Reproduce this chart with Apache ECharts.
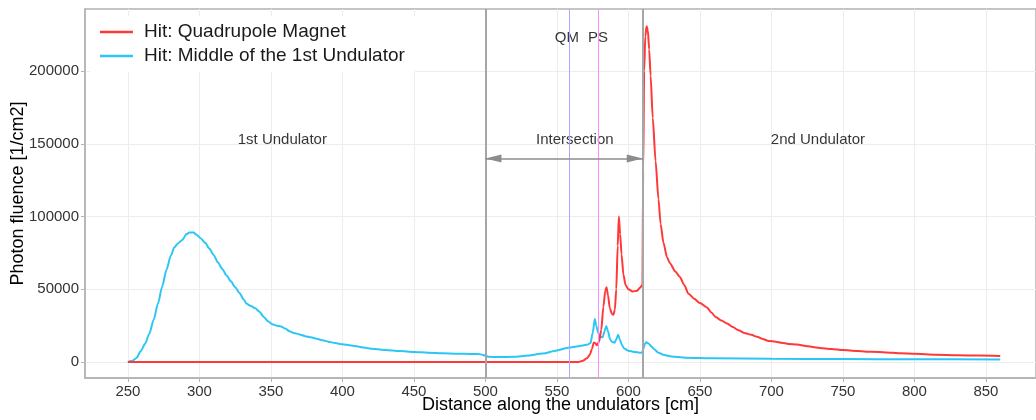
<!DOCTYPE html>
<html>
<head>
<meta charset="utf-8">
<style>
  html, body { margin: 0; padding: 0; background: #fff; }
  #chart { width: 1036px; height: 420px; }
</style>
<script src="https://cdn.jsdelivr.net/npm/echarts@6/dist/echarts.min.js"></script>
</head>
<body>
<div id="chart"></div>
<script>
// distance [cm], photon fluence [1/cm2]
const hitQuadrupole = [
  [250, 0], [400, 0], [565, 0], [568, 800], [571, 2500], [573, 5000], [574.5, 9000],
  [575.8, 13500], [576.8, 13000], [578, 11500], [579.5, 14000], [581, 22000],
  [582.5, 38000], [583.8, 49000], [584.7, 51500], [585.7, 46000], [587, 37000],
  [588.5, 33000], [589.5, 32500], [590.5, 36000], [591.5, 50000], [592.5, 80000],
  [593.3, 100000], [594.2, 88000], [595.2, 74000], [596.5, 60000], [598, 53000],
  [600, 50000], [603, 48500], [606, 49000], [608, 51000], [609.8, 53000],
  [610.3, 130000], [611, 200000], [611.8, 224000], [612.7, 231000], [613.6, 228000],
  [614.5, 215000], [615.5, 197000], [617, 168000], [619, 138000], [621, 112000],
  [622.5, 95000], [624.5, 82000], [627, 72000], [629, 68000], [633, 62000],
  [636, 58500], [639, 53000], [642, 47000], [646, 43500], [650, 40500], [655, 37500],
  [658, 34000], [661, 31000], [665, 28500], [669, 26500], [673, 24000], [677, 21800],
  [681, 20000], [686, 18700], [690, 17300], [694, 15800], [698, 14500], [703, 14000],
  [707, 13300], [712, 12400], [718, 12000], [724, 11000], [730, 10200], [736, 9400],
  [742, 9000], [750, 8200], [760, 7600], [770, 7000], [780, 6600], [790, 6000],
  [800, 5600], [815, 5000], [830, 4700], [845, 4400], [860, 4100]
];

const hitMiddleUndulator = [
  [250, 0], [253, 800], [256, 2800], [259, 7500], [262, 12500], [265, 19500],
  [268, 29000], [271, 40000], [274, 52000], [277, 63500], [280, 73000], [282.5, 79000],
  [285, 81500], [288, 84000], [291, 88000], [293, 89000], [296, 89000], [298, 87500],
  [301, 85000], [304, 82000], [307, 78000], [310, 73500], [313, 68500], [316, 64000],
  [319, 59500], [322, 55500], [325, 51500], [328, 47500], [331, 43000], [333, 40000],
  [336, 38500], [339, 37000], [342, 34500], [345, 31000], [348, 28000], [351, 26000],
  [354, 25000], [357, 24500], [360, 23000], [363, 21200], [366, 20000], [370, 19000],
  [374, 17800], [378, 17000], [382, 16000], [386, 15000], [390, 14000], [395, 13000],
  [400, 12200], [405, 11600], [410, 10800], [415, 9900], [420, 9200], [425, 8700],
  [430, 8200], [440, 7500], [450, 6900], [460, 6400], [470, 6000], [480, 5700],
  [490, 5500], [495, 5500], [498, 5000], [500, 4300], [502, 3600], [510, 3400],
  [520, 3600], [530, 4400], [540, 5800], [550, 8000], [558, 9800], [565, 10800],
  [571, 11800], [573.5, 13000], [575, 20000], [576.5, 29500], [577.5, 25000],
  [579, 19500], [580.5, 17300], [582, 17000], [583.2, 21000], [584.5, 24800],
  [585.8, 21000], [587, 16000], [588.5, 13800], [590.3, 13300], [591.5, 15500],
  [592.8, 18800], [594, 15500], [595.5, 11500], [597, 9300], [600, 7800], [604, 6900],
  [608, 6400], [609.5, 6500], [610.5, 9000], [611.5, 12500], [612.5, 13600],
  [614, 12800], [616, 10800], [618, 8800], [621, 6400], [625, 4800], [630, 3800],
  [640, 3000], [660, 2500], [700, 2200], [750, 2000], [800, 1900], [860, 1800]
];

const xTicks = [250, 300, 350, 400, 450, 500, 550, 600, 650, 700, 750, 800, 850];
const yTicks = [0, 50000, 100000, 150000, 200000];

const sectionBounds = [500, 610];
const qmPos = 558.5;
const psPos = 579;
const intersectionArrowY = 140000;

const sectionLabels = [
  [358, 153000, '1st Undulator'],
  [562.5, 153000, 'Intersection'],
  [732.5, 153000, '2nd Undulator'],
  [557, 223000, 'QM'],
  [578.7, 223000, 'PS']
];

const FONT = '"Liberation Sans", Arial, sans-serif';
const chart = echarts.init(document.getElementById('chart'));

const option = {
  animation: false,
  textStyle: { fontFamily: FONT },
  grid: {
    left: 85, right: 0, top: 9, bottom: 42,
    outerBoundsMode: 'none',
    containLabel: false,
    show: true, borderColor: '#b3b3b3', borderWidth: 1.5
  },
  legend: {
    orient: 'vertical',
    left: 90, top: 16,
    padding: [6, 10],
    itemGap: 4,
    itemWidth: 33,
    itemHeight: 2.5,
    icon: 'rect',
    backgroundColor: '#fff',
    textStyle: { fontSize: 19, color: '#1a1a1a', fontFamily: FONT, lineHeight: 20, padding: [0, 0, 0, 6] },
    data: ['Hit: Quadrupole Magnet', 'Hit: Middle of the 1st Undulator']
  },
  xAxis: {
    type: 'value',
    min: 220, max: 885,
    name: 'Distance along the undulators [cm]',
    nameLocation: 'middle',
    nameGap: 27,
    nameMoveOverlap: false,
    nameTextStyle: { fontSize: 18, color: '#000', fontFamily: FONT, verticalAlign: 'middle' },
    axisLine: { onZero: false, lineStyle: { color: '#b3b3b3', width: 1.5 } },
    axisTick: { customValues: xTicks, length: 4, lineStyle: { color: '#b3b3b3' } },
    axisLabel: {
      customValues: xTicks, fontSize: 15, color: '#333', margin: 6,
      formatter: v => String(v)
    },
    splitLine: { show: true, lineStyle: { color: '#ededed', width: 1 } }
  },
  yAxis: {
    type: 'value',
    min: -11000, max: 242800,
    name: 'Photon fluence [1/cm2]',
    nameLocation: 'middle',
    nameGap: 67,
    nameMoveOverlap: false,
    nameTextStyle: { fontSize: 18, color: '#000', fontFamily: FONT, verticalAlign: 'middle' },
    axisLine: { show: true, lineStyle: { color: '#b3b3b3', width: 1.5 } },
    axisTick: { show: true, customValues: yTicks, length: 4, lineStyle: { color: '#b3b3b3' } },
    axisLabel: {
      customValues: yTicks, fontSize: 15, color: '#333', margin: 6,
      formatter: v => String(v)
    },
    splitLine: { show: true, lineStyle: { color: '#ededed', width: 1 } }
  },
  series: [
    {
      name: 'Hit: Quadrupole Magnet',
      type: 'line',
      data: hitQuadrupole,
      showSymbol: false,
      smooth: 0.25,
      smoothMonotone: 'x',
      color: '#ff3838',
      lineStyle: { width: 2, color: '#ff3838' },
      z: 4
    },
    {
      name: 'Hit: Middle of the 1st Undulator',
      type: 'line',
      data: hitMiddleUndulator,
      showSymbol: false,
      smooth: 0.25,
      smoothMonotone: 'x',
      color: '#2cc6f6',
      lineStyle: { width: 2, color: '#2cc6f6' },
      z: 3
    },
    {
      name: 'markers',
      type: 'scatter',
      data: sectionLabels.map(d => ({ value: [d[0], d[1]], name: d[2] })),
      symbolSize: 0,
      silent: true,
      label: {
        show: true,
        position: 'inside',
        formatter: p => p.name,
        fontSize: 15,
        color: '#000',
        fontFamily: FONT
      },
      markLine: {
        silent: true,
        symbol: 'none',
        label: { show: false },
        animation: false,
        data: [
          { xAxis: sectionBounds[0], lineStyle: { color: '#a6a6a6', width: 2, type: 'solid' } },
          { xAxis: sectionBounds[1], lineStyle: { color: '#a6a6a6', width: 2, type: 'solid' } },
          { xAxis: qmPos, lineStyle: { color: '#a9a9ff', width: 1, type: 'solid' } },
          { xAxis: psPos, lineStyle: { color: '#ff8cff', width: 1, type: 'solid' } },
          [
            {
              coord: [sectionBounds[0], intersectionArrowY],
              symbol: 'triangle', symbolSize: [8, 16], symbolOffset: [0, 8],
              lineStyle: { color: '#8c8c8c', width: 1.5, type: 'solid' }
            },
            { coord: [sectionBounds[1], intersectionArrowY], symbol: 'triangle', symbolSize: [8, 16], symbolOffset: [0, 8] }
          ]
        ]
      },
      z: 2
    }
  ]
};

chart.setOption(option);
</script>
</body>
</html>
